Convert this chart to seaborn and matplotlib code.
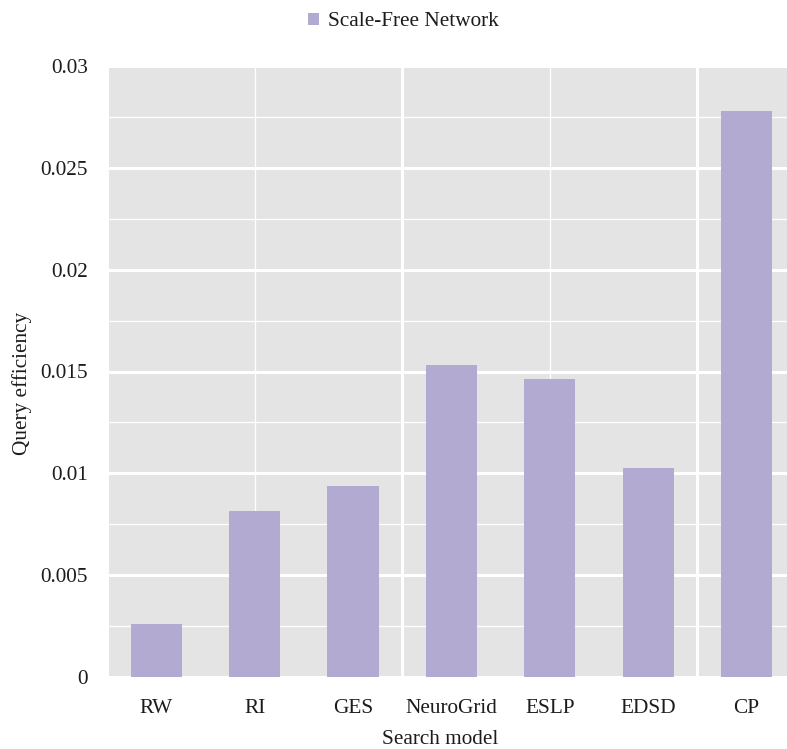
import matplotlib
matplotlib.use("Agg")
import matplotlib.pyplot as plt
from matplotlib.ticker import MultipleLocator, FuncFormatter
import pandas as pd
import seaborn as sns

# Query efficiency of each search model on a scale-free network
models = ["RW", "RI", "GES", "NeuroGrid", "ESLP", "EDSD", "CP"]
efficiency = [0.0026, 0.00817, 0.00936, 0.01532, 0.01463, 0.01028, 0.0278]
series_name = "Scale-Free Network"
y_ticks = [0, 0.005, 0.01, 0.015, 0.02, 0.025, 0.03]

BAR = "#b2aad1"
PANEL = "#e4e4e4"
TEXT = "#1c1c1c"
FS = 15.3

sns.set_style("white", {"axes.facecolor": PANEL})
plt.rcParams["font.family"] = ["Liberation Serif", "DejaVu Serif"]

W, H = 787, 749
fig = plt.figure(figsize=(W / 100, H / 100), dpi=100)
ax = fig.add_axes([109 / W, (H - 677) / H, (W - 109) / W, (677 - 66) / H])

df = pd.DataFrame({"model": models, "efficiency": efficiency,
                   "series": [series_name] * len(models)})
sns.barplot(data=df, x="model", y="efficiency", hue="series",
            palette=[BAR], saturation=1, width=0.52, ax=ax, zorder=3,
            linewidth=0, edgecolor=BAR)

# Axis ranges and ticks
ax.set_ylim(0, 0.03)
ax.set_xlim(-0.48, 6.41)
ax.set_yticks(y_ticks)
ax.yaxis.set_minor_locator(MultipleLocator(0.0025))
ax.yaxis.set_major_formatter(FuncFormatter(lambda v, _: "0" if v == 0 else f"{v:g}"))
ax.tick_params(axis="both", which="both", length=0, labelsize=FS, colors=TEXT)
ax.tick_params(axis="y", pad=15)
ax.tick_params(axis="x", pad=16)

# White grid: heavy major lines, light minor lines
ax.grid(False)
ax.grid(True, axis="y", which="major", color="white", lw=2.2, zorder=1)
ax.grid(True, axis="y", which="minor", color="white", lw=0.9, zorder=1)
for xv in (1, 4):
    ax.axvline(xv, color="white", lw=0.9, zorder=1)
for xv in (2.5, 5.5):
    ax.axvline(xv, color="white", lw=2.2, zorder=1)
ax.set_axisbelow(True)

for s in ax.spines.values():
    s.set_visible(False)

ax.set_xlabel("Search model", fontsize=FS, color=TEXT)
ax.set_ylabel("Query efficiency", fontsize=FS, color=TEXT)
ax.xaxis.set_label_coords((440 - 109) / (W - 109), -(739 - 677) / (677 - 66))
ax.xaxis.label.set_va("center")
ax.yaxis.set_label_coords((22 - 109) / (W - 109), (677 - 383) / (677 - 66))
ax.yaxis.label.set_va("center")

sns.move_legend(ax, "center", bbox_to_anchor=(403 / W, 1 - 22 / H),
                bbox_transform=fig.transFigure, frameon=False, title=None,
                fontsize=FS, handlelength=0.55, handleheight=0.55,
                handletextpad=0.4, labelcolor=TEXT)

fig.savefig("out.png", dpi=100)
